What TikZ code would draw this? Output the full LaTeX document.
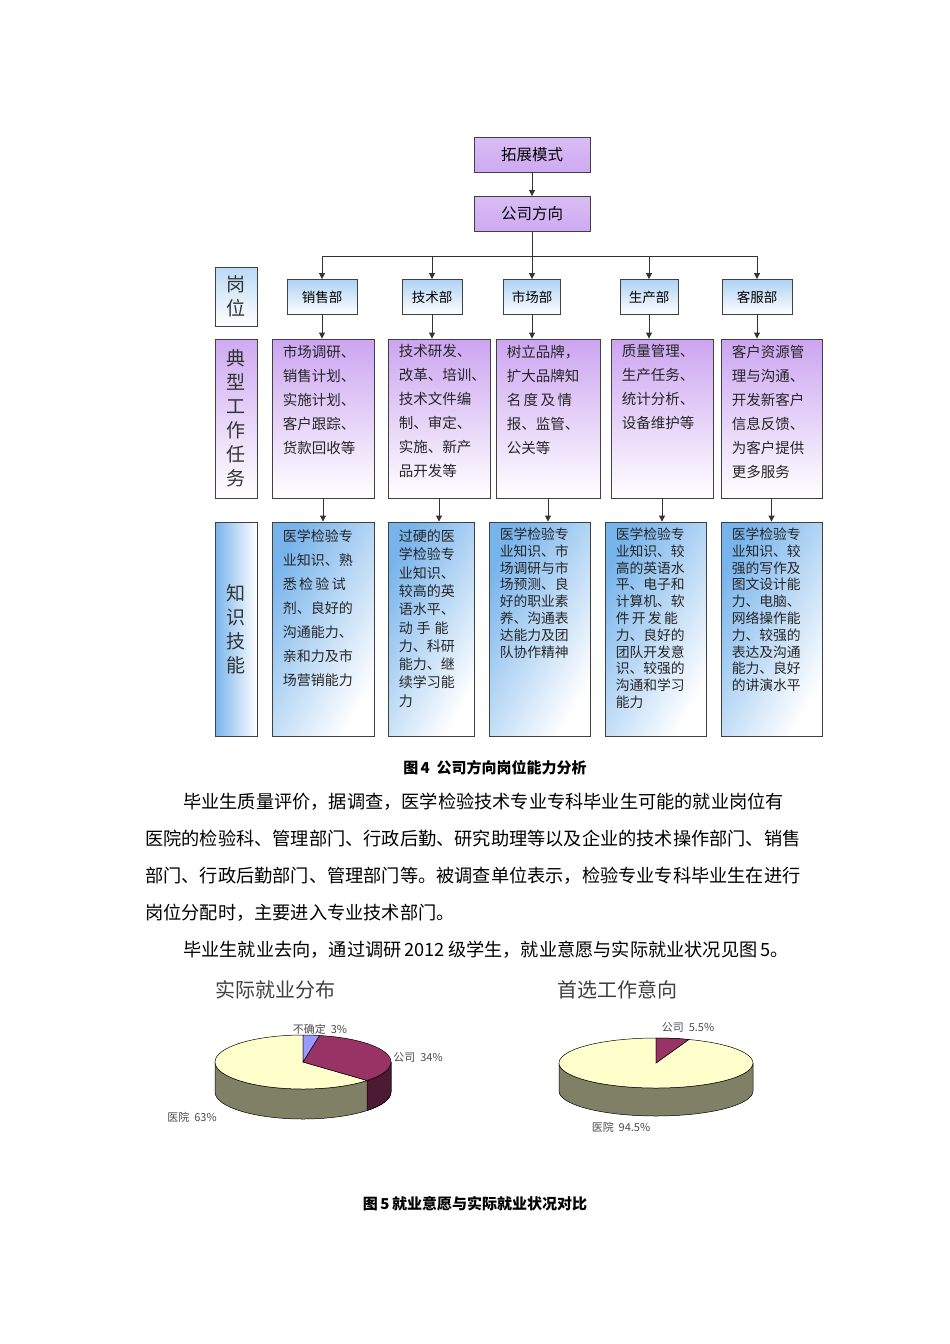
\documentclass[tikz,border=0pt]{standalone}
\usepackage{fontspec}
\setmainfont{Noto Sans CJK SC}
\newfontfamily\cjk{Noto Sans CJK SC}
\usetikzlibrary{calc,arrows.meta}
\definecolor{pu}{HTML}{C9A0F0}
\definecolor{bl}{HTML}{78B4EC}
\definecolor{hosp}{HTML}{FFFFCC}
\definecolor{wall}{HTML}{808066}
\definecolor{comp}{HTML}{993366}
\definecolor{compd}{HTML}{4D1A33}
\definecolor{unk}{HTML}{9999FF}
\tikzset{
 box/.style={draw=black!75,line width=0.9pt},
 topbox/.style={box,top color=pu!70,bottom color=pu!90!white,minimum width=116pt,minimum height=35pt,font=\fontsize{15.5}{16}\selectfont},
 deptbox/.style={box,top color=bl!60,bottom color=white,minimum height=35pt,font=\fontsize{13.5}{14}\selectfont},
 taskbox/.style={box,top color=pu!95,bottom color=white,minimum height=159pt},
 knowbox/.style={box,left color=bl,right color=white,shading angle=60,minimum height=214pt},
 sidebox/.style={box,minimum width=42pt},
 txt/.style={anchor=north west,align=left,inner sep=0pt,font=\fontsize{14.5}{24}\selectfont,text=black!85},
 txtk/.style={txt,font=\fontsize{14}{24}\selectfont},
 txtm/.style={txt,font=\fontsize{14}{18.3}\selectfont},
 txtc/.style={txt,font=\fontsize{13.8}{16.8}\selectfont},
 vtxt/.style={align=center,inner sep=0pt,font=\fontsize{19}{24}\selectfont,text=black!80},
 arr/.style={-{Triangle[length=6pt,width=6pt]},line width=0.9pt,black!80},
 para/.style={anchor=west,inner sep=0pt,font=\fontsize{18.2}{20}\selectfont},
 lab/.style={inner sep=0pt,font=\fontsize{11}{12}\selectfont,text=black!70},
 ttl/.style={inner sep=0pt,font=\fontsize{20}{22}\selectfont,text=black!75},
 pie/.style={draw=black,line width=0.5pt}
}
\begin{document}
\begin{tikzpicture}[x=1pt,y=-1pt]
\useasboundingbox[fill=white] (0,0) rectangle (950,1344);
% top
\node[topbox] (tz) at (532,154.5) {拓展模式};
\node[topbox] (gs) at (532,214) {公司方向};
\draw[arr] (tz) -- (gs);
% side labels
\node[sidebox,top color=bl!50,bottom color=white,minimum height=59pt] (gw) at (236,296.5) {};
\node[vtxt] at (gw) {岗\\位};
\node[sidebox,top color=pu!90,bottom color=white,minimum height=159pt] (dx) at (236,418.5) {};
\node[vtxt] at (dx) {典\\型\\工\\作\\任\\务};
\node[sidebox,left color=bl,right color=white,minimum height=214pt] (zs) at (236,629) {};
\node[vtxt] at (zs) {知\\识\\技\\能};
% departments
\node[deptbox,minimum width=70pt] (d1) at (322,297) {销售部};
\node[deptbox,minimum width=60pt] (d2) at (432,297) {技术部};
\node[deptbox,minimum width=57pt] (d3) at (532,297) {市场部};
\node[deptbox,minimum width=58pt] (d4) at (649,297) {生产部};
\node[deptbox,minimum width=70pt] (d5) at (757,297) {客服部};
\coordinate (hub) at (532,256);
\draw[line width=0.9pt,black!80] (gs.south) -- (hub);
\draw[line width=0.9pt,black!80] (d1.north |- hub) -- (d5.north |- hub);
\foreach \d in {d1,d2,d3,d4,d5} \draw[arr] (\d.north |- hub) -- (\d.north);
% tasks
\node[taskbox,minimum width=102pt] (t1) at (323,418.5) {};
\node[taskbox,minimum width=102pt] (t2) at (439,418.5) {};
\node[taskbox,minimum width=104pt] (t3) at (548,418.5) {};
\node[taskbox,minimum width=102pt] (t4) at (662,418.5) {};
\node[taskbox,minimum width=101pt] (t5) at (771.5,418.5) {};
\foreach \d/\t in {d1/t1,d2/t2,d3/t3,d4/t4,d5/t5} \draw[arr] (\d.south) -- (\d.south |- \t.north);
\node[txt] at ($(t1.north west)+(11,6)$) {市场调研、\\销售计划、\\实施计划、\\客户跟踪、\\货款回收等};
\node[txt] at ($(t2.north west)+(11,6)$) {技术研发、\\改革、培训、\\技术文件编\\制、审定、\\实施、新产\\品开发等};
\node[txt] at ($(t3.north west)+(11,6)$) {树立品牌，\\扩大品牌知\\名\,度\,及\,情\\报、监管、\\公关等};
\node[txt] at ($(t4.north west)+(11,6)$) {质量管理、\\生产任务、\\统计分析、\\设备维护等};
\node[txt] at ($(t5.north west)+(11,6)$) {客户资源管\\理与沟通、\\开发新客户\\信息反馈、\\为客户提供\\更多服务};
% knowledge
\node[knowbox,minimum width=102pt] (k1) at (323,629) {};
\node[knowbox,minimum width=86pt] (k2) at (431,629) {};
\node[knowbox,minimum width=101pt] (k3) at (539.5,629) {};
\node[knowbox,minimum width=101pt] (k4) at (655.5,629) {};
\node[knowbox,minimum width=101pt] (k5) at (771.5,629) {};
\foreach \t/\k in {t1/k1,t3/k3,t4/k4,t5/k5} \draw[arr] (\t.south) -- (\t.south |- \k.north);
\draw[arr] (t2.south) -- (t2.south |- k2.north);
\node[txtk] at ($(k1.north west)+(11,8)$) {医学检验专\\业知识、熟\\悉\,检\,验\,试\\剂、良好的\\沟通能力、\\亲和力及市\\场营销能力};
\node[txtm] at ($(k2.north west)+(11,8)$) {过硬的医\\学检验专\\业知识、\\较高的英\\语水平、\\动\;手\;能\\力、科研\\能力、继\\续学习能\\力};
\node[txtc] at ($(k3.north west)+(11,6)$) {医学检验专\\业知识、市\\场调研与市\\场预测、良\\好的职业素\\养、沟通表\\达能力及团\\队协作精神};
\node[txtc] at ($(k4.north west)+(11,6)$) {医学检验专\\业知识、较\\高的英语水\\平、电子和\\计算机、软\\件\,开\,发\,能\\力、良好的\\团队开发意\\识、较强的\\沟通和学习\\能力};
\node[txtc] at ($(k5.north west)+(11,6)$) {医学检验专\\业知识、较\\强的写作及\\图文设计能\\力、电脑、\\网络操作能\\力、较强的\\表达及沟通\\能力、良好\\的讲演水平};
% caption
\node[inner sep=0pt,font=\fontsize{15}{16}\selectfont\bfseries] (c4) at (495,768) {图\,4\ \ 公司方向岗位能力分析};
% paragraph
\node[para] (p1) at (183,802) {毕业生质量评价，据调查，医学检验技术专业专科毕业生可能的就业岗位有};
\node[para] (p2) at (145,839) {医院的检验科、管理部门、行政后勤、研究助理等以及企业的技术操作部门、销售};
\node[para] (p3) at (145,876) {部门、行政后勤部门、管理部门等。被调查单位表示，检验专业专科毕业生在进行};
\node[para] (p4) at (145,913) {岗位分配时，主要进入专业技术部门。};
\node[para] (p5) at (183,950) {毕业生就业去向，通过调研\,2012\,级学生，就业意愿与实际就业状况见图\,5。};
% pie titles
\node[ttl] (pt1) at (275,990) {实际就业分布};
\node[ttl] (pt2) at (617,990) {首选工作意向};
% left pie
\begin{scope}[shift={(303,1062)}]
 \filldraw[pie,fill=wall] (180:88pt and 27pt) arc[start angle=180,end angle=360,x radius=88pt,y radius=27pt] -- ++(0pt,-30pt) arc[start angle=360,end angle=180,x radius=88pt,y radius=27pt] -- cycle;
 \filldraw[pie,fill=compd] (316.8:88pt and 27pt) arc[start angle=316.8,end angle=360,x radius=88pt,y radius=27pt] -- ++(0pt,-30pt) arc[start angle=360,end angle=316.8,x radius=88pt,y radius=27pt] -- cycle;
 \filldraw[pie,fill=hosp] (0,0) -- (90:88pt and 27pt) arc[start angle=90,end angle=316.8,x radius=88pt,y radius=27pt] -- cycle;
 \filldraw[pie,fill=comp] (0,0) -- (79.2:88pt and 27pt) arc[start angle=79.2,end angle=-43.2,x radius=88pt,y radius=27pt] -- cycle;
 \filldraw[pie,fill=unk] (0,0) -- (90:88pt and 27pt) arc[start angle=90,end angle=79.2,x radius=88pt,y radius=27pt] -- cycle;
\end{scope}
\node[lab] (l1) at (320,1029) {不确定\ \ 3\%};
\node[lab] (l2) at (418,1057) {公司\ \ 34\%};
\node[lab] (l3) at (192,1117) {医院\ \ 63\%};
% right pie
\begin{scope}[shift={(656,1063)}]
 \filldraw[pie,fill=wall] (180:97pt and 25pt) arc[start angle=180,end angle=360,x radius=97pt,y radius=25pt] -- ++(0pt,-28pt) arc[start angle=360,end angle=180,x radius=97pt,y radius=25pt] -- cycle;
 \filldraw[pie,fill=hosp] (0,0) -- (70.2:97pt and 25pt) arc[start angle=70.2,end angle=450,x radius=97pt,y radius=25pt] -- cycle;
 \filldraw[pie,fill=comp] (0,0) -- (90:97pt and 25pt) arc[start angle=90,end angle=70.2,x radius=97pt,y radius=25pt] -- cycle;
\end{scope}
\node[lab] (l4) at (688,1027) {公司\ \ 5.5\%};
\node[lab] (l5) at (621,1127) {医院\ \ 94.5\%};
\node[inner sep=0pt,font=\fontsize{15}{16}\selectfont\bfseries] (c5) at (475,1204) {图\,5\,就业意愿与实际就业状况对比};
\end{tikzpicture}
\end{document}
